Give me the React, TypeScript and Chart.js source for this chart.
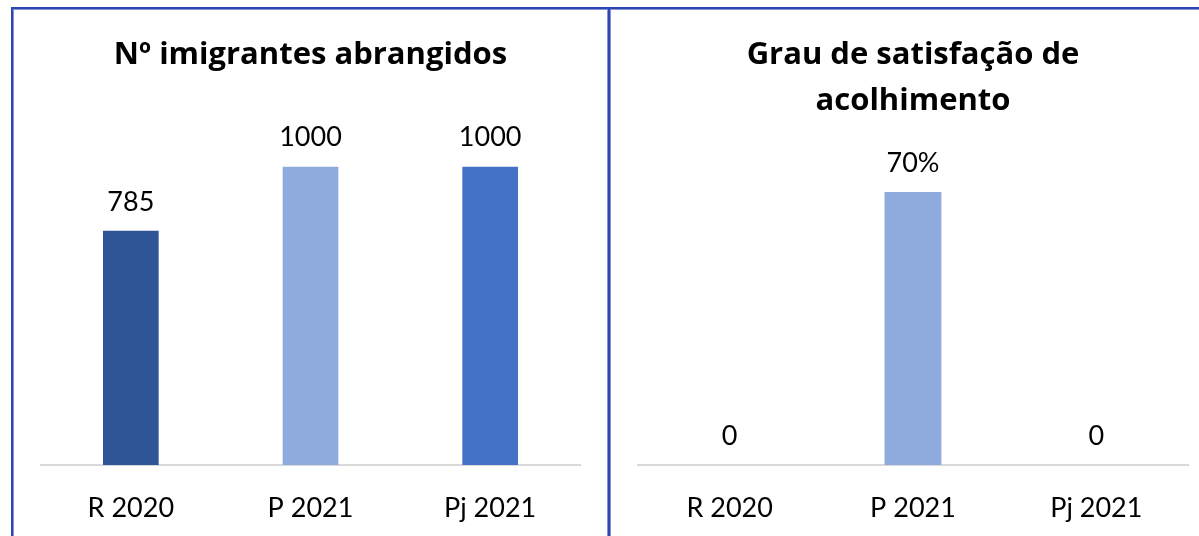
import React, { useEffect, useRef } from "react";
import { Chart, registerables } from "chart.js";

Chart.register(...registerables);

const categories = ["R 2020", "P 2021", "Pj 2021"];
const immigrants = [785, 1000, 1000];
const satisfaction = [0, 0.7, 0];
const barColors = ["#2F5597", "#8FAADC", "#4472C4"];
const titleLeft = "Nº imigrantes abrangidos";
const titleRight = ["Grau de satisfação de", "acolhimento"];

const FONT = "Lato";
const TITLE_FONT = "'Open Sans'";

const valueLabels = {
  id: "valueLabels",
  afterDatasetsDraw(chart: any, _args: any, opts: any) {
    const ctx = chart.ctx;
    const meta = chart.getDatasetMeta(0);
    const data = chart.data.datasets[0].data;
    ctx.save();
    ctx.font = `27px ${FONT}`;
    ctx.fillStyle = "#000000";
    ctx.textAlign = "center";
    ctx.textBaseline = "middle";
    meta.data.forEach((bar: any, i: number) => {
      ctx.fillText(opts.format(data[i]), bar.x, bar.y - opts.offset);
    });
    ctx.restore();
  },
};

function makeConfig(
  values: number[],
  title: string | string[],
  max: number,
  padL: number,
  padR: number,
  titleTop: number,
  titleBottom: number,
  format: (v: number) => string
): any {
  return {
    type: "bar",
    data: {
      labels: categories,
      datasets: [
        {
          data: values,
          backgroundColor: barColors,
          borderWidth: 0,
          barPercentage: 1,
          categoryPercentage: 0.31,
        },
      ],
    },
    plugins: [valueLabels],
    options: {
      animation: false,
      responsive: false,
      events: [],
      layout: { padding: { left: padL, right: padR, top: 0, bottom: 0 } },
      plugins: {
        legend: { display: false },
        tooltip: { enabled: false },
        title: {
          display: true,
          text: title,
          color: "#000000",
          font: { family: TITLE_FONT, size: 31, weight: "bold", lineHeight: 46 / 31 },
          padding: { top: titleTop, bottom: titleBottom },
        },
        valueLabels: { format, offset: 29 },
      },
      scales: {
        x: {
          grid: { display: false, drawTicks: false },
          border: { display: true, color: "#D9D9D9", width: 2 },
          ticks: {
            color: "#000000",
            padding: 27,
            font: { family: FONT, size: 27 },
          },
          afterFit: (s: any) => {
            s.height = 71;
          },
        },
        y: {
          display: false,
          min: 0,
          max,
        },
      },
    },
  };
}

function BarChart(props: { config: any; left: number; width: number }) {
  const ref = useRef<HTMLCanvasElement>(null);
  useEffect(() => {
    if (!ref.current) return;
    const chart = new Chart(ref.current, props.config);
    return () => chart.destroy();
  }, []);
  return (
    <canvas
      ref={ref}
      width={props.width}
      height={526}
      style={{
        position: "absolute",
        left: props.left,
        top: 10,
        width: props.width,
        height: 526,
        display: "block",
      }}
    />
  );
}

const leftConfig = makeConfig(immigrants, titleLeft, 1200, 27, 27, 22, 29, (v) => String(v));
const rightConfig = makeConfig(satisfaction, titleRight, 0.8, 28, 11, 22, 29, (v) =>
  v === 0 ? "0" : `${Math.round(v * 100)}%`
);

export default function App() {
  return (
    <div
      style={{
        position: "absolute",
        left: 0,
        top: 0,
        width: 1199,
        height: 536,
        background: "#FFFFFF",
        overflow: "hidden",
      }}
    >
      <BarChart config={leftConfig} left={14} width={593} />
      <BarChart config={rightConfig} left={610} width={589} />
      <div style={{ position: "absolute", left: 11, top: 7, width: 1188, height: 2, background: "#2E46B0" }} />
      <div style={{ position: "absolute", left: 13, top: 9, width: 1186, height: 1, background: "#8594D9" }} />
      <div style={{ position: "absolute", left: 11, top: 7, width: 2, height: 529, background: "#2E46B0" }} />
      <div style={{ position: "absolute", left: 13, top: 9, width: 1, height: 527, background: "#8594D9" }} />
      <div style={{ position: "absolute", left: 607, top: 9, width: 1, height: 527, background: "#8594D9" }} />
      <div style={{ position: "absolute", left: 608, top: 7, width: 2, height: 529, background: "#2E46B0" }} />
      <div style={{ position: "absolute", left: 610, top: 9, width: 1, height: 527, background: "#8594D9" }} />
    </div>
  );
}
